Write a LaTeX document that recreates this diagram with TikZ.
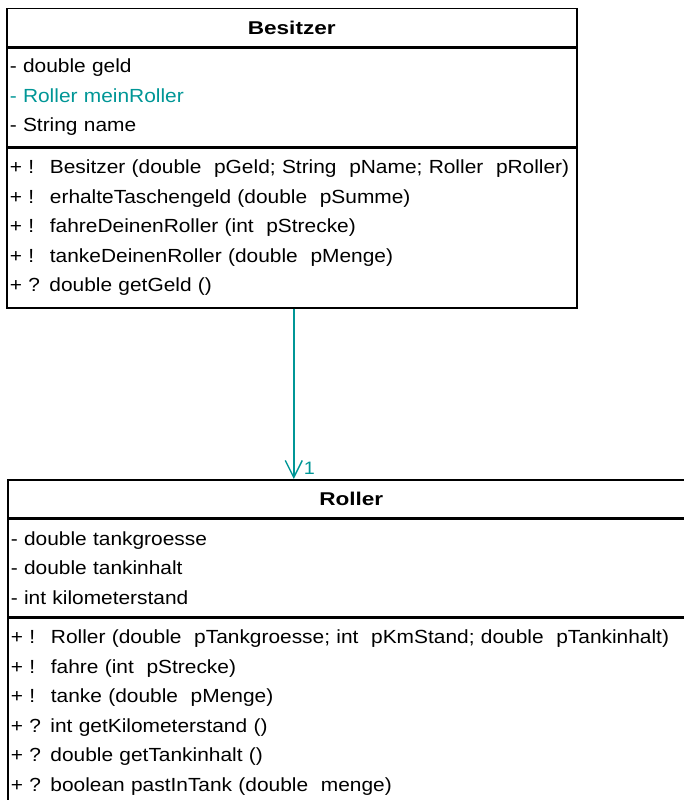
\documentclass[tikz,border=0pt]{standalone}
\usepackage{fontspec}
\setmainfont{Liberation Sans}[FakeStretch=1.1]
\newfontfamily\headfont{Liberation Sans}[FakeStretch=1.22]
\usepackage{tikz}
\usetikzlibrary{arrows.meta,positioning}
\definecolor{umlteal}{RGB}{0,150,150}
\tikzstyle{classhead} = [rectangle, draw=black, line width=1.5pt, anchor=north west, minimum height=38pt, inner sep=0pt, font=\headfont\fontsize{18.5}{18.5}\selectfont\bfseries]
\tikzstyle{classpart} = [rectangle, draw=black, line width=1.5pt, align=left, inner xsep=3pt, inner ysep=0pt, font=\fontsize{19}{29.5}\selectfont]
\tikzstyle{assoc} = [line width=1.6pt, draw=umlteal, -{Straight Barb[length=17pt,width=17pt,line width=1.4pt]}]

\begin{document}
\begin{tikzpicture}[x=1pt, y=-1pt]
\useasboundingbox (0,0) rectangle (684,800);
\clip (0,0) rectangle (684,800);

% Besitzer
\node[classhead, minimum width=570pt] (besitzer) at (6,8) {Besitzer};
\node[classpart, text width=564pt, minimum height=98pt, below=0pt of besitzer] (besitzerattr)
  {- double geld\\ \textcolor{umlteal}{- Roller meinRoller}\\ - String name};
\node[classpart, text width=564pt, minimum height=160pt, below=0pt of besitzerattr] (besitzerops)
  {+ !~ Besitzer (double~ pGeld; String~ pName; Roller~ pRoller)\\
   + !~ erhalteTaschengeld (double~ pSumme)\\
   + !~ fahreDeinenRoller (int~ pStrecke)\\
   + !~ tankeDeinenRoller (double~ pMenge)\\
   + ? double getGeld ()};

% Roller
\node[classhead, minimum width=687pt] (roller) at (7,479) {Roller};
\node[classpart, text width=681pt, minimum height=97pt, below=0pt of roller] (rollerattr)
  {- double tankgroesse\\ - double tankinhalt\\ - int kilometerstand};
\node[classpart, text width=681pt, minimum height=190pt, below=0pt of rollerattr] (rollerops)
  {+ !~ Roller (double~ pTankgroesse; int~ pKmStand; double~ pTankinhalt)\\
   + !~ fahre (int~ pStrecke)\\
   + !~ tanke (double~ pMenge)\\
   + ? int getKilometerstand ()\\
   + ? double getTankinhalt ()\\
   + ? boolean pastInTank (double~ menge)};

\draw[assoc] ([xshift=2pt]besitzerops.south) -- node[pos=0.94, right=6pt, text=umlteal, font=\fontsize{18}{18}\selectfont] {1} ([xshift=2pt]besitzerops.south |- roller.north);
\end{tikzpicture}
\end{document}
